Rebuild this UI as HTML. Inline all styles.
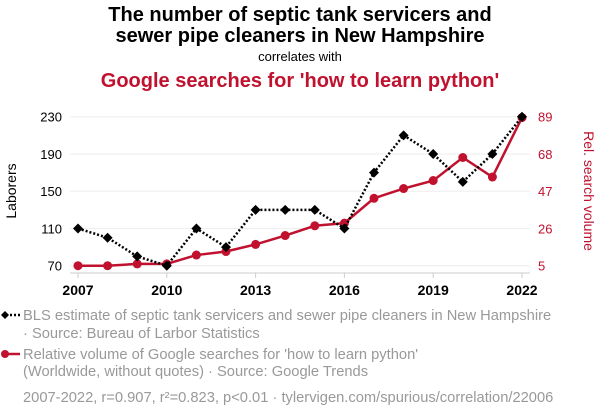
<!DOCTYPE html>
<html><head><meta charset="utf-8"><style>
body{margin:0;background:#fff;font-family:"Liberation Sans",sans-serif;}
svg{display:block}
</style></head><body>
<svg id="c" width="600" height="414">
<text x="300" y="21" text-anchor="middle" font-size="20" font-weight="bold" fill="#000">The number of septic tank servicers and</text>
<text x="300" y="42" text-anchor="middle" font-size="20" font-weight="bold" fill="#000">sewer pipe cleaners in New Hampshire</text>
<text x="300" y="61" text-anchor="middle" font-size="13" fill="#000">correlates with</text>
<text x="300" y="87" text-anchor="middle" font-size="20" font-weight="bold" fill="#c0122f">Google searches for 'how to learn python'</text>
<g id="grid"></g><g id="axes"></g><g id="series"></g>
<text transform="translate(16,191) rotate(-90)" text-anchor="middle" font-size="14" fill="#000">Laborers</text>
<text transform="translate(584,191) rotate(90)" text-anchor="middle" font-size="14" fill="#c0122f">Rel. search volume</text>
<g>
<line x1="2" y1="315" x2="20" y2="315" stroke="#000" stroke-width="2.5" stroke-dasharray="2,2"/>
<path d="M1 315 l4 -4 l4 4 l-4 4z" fill="#000"/>
<text x="23" y="320" font-size="14.7" fill="#999">BLS estimate of septic tank servicers and sewer pipe cleaners in New Hampshire</text>
<text x="23" y="338" font-size="14.7" fill="#999">· Source: Bureau of Larbor Statistics</text>
</g>
<g>
<line x1="2" y1="354" x2="20" y2="354" stroke="#c0122f" stroke-width="2.5"/>
<circle cx="5" cy="354" r="4" fill="#c0122f"/>
<text x="23" y="359" font-size="14.7" fill="#999">Relative volume of Google searches for 'how to learn python'</text>
<text x="23" y="376" font-size="14.7" fill="#999">(Worldwide, without quotes) · Source: Google Trends</text>
</g>
<text x="23" y="402" font-size="14.7" fill="#999">2007-2022, r=0.907, r²=0.823, p&lt;0.01 · tylervigen.com/spurious/correlation/22006</text>
</svg>
<script>
const years=[2007,2008,2009,2010,2011,2012,2013,2014,2015,2016,2017,2018,2019,2020,2021,2022];
const laborers=[110,100,80,70,110,90,130,130,130,110,170,210,190,160,190,230];
const searches=[5,5,6,6,11,13,17,22,27.5,29,43,48.5,53,66,55,88.5];
const leftTicks=[70,110,150,190,230];
const rightTicks=[5,26,47,68,89];
const xTicks=[2007,2010,2013,2016,2019,2022];
const NS="http://www.w3.org/2000/svg";
const x=v=>78+(v-2007)*(522-78)/15;
const yL=v=>265.7-(v-70)*(265.7-116.7)/160;
const yR=v=>265.7-(v-5)*(265.7-116.7)/84;
function mk(t,a,p){const e=document.createElementNS(NS,t);for(const k in a)e.setAttribute(k,a[k]);p.appendChild(e);return e;}
const grid=document.getElementById('grid'),axes=document.getElementById('axes'),ser=document.getElementById('series');
leftTicks.forEach((v,i)=>{
 const g=mk('line',{x1:70,x2:530,y1:yL(v),y2:yL(v),stroke:'#eee','stroke-width':1},grid);
 
 
 const t=mk('text',{x:62,y:yL(v)+5,'text-anchor':'end','font-size':13,fill:'#000'},axes);t.textContent=v;
 
 
 const r=mk('text',{x:538,y:yR(rightTicks[i])+5,'font-size':13,fill:'#c0122f'},axes);r.textContent=rightTicks[i];
 
 
});
const ax=mk('line',{x1:70,x2:530,y1:273,y2:273,stroke:'#ccc'},axes);


xTicks.forEach(v=>{
 mk('line',{x1:x(v),x2:x(v),y1:273,y2:278,stroke:'#ccc'},axes);
 const t=mk('text',{x:x(v),y:295,'text-anchor':'middle','font-size':14,'font-weight':'bold',fill:'#000'},axes);t.textContent=v;
 
 
});
const rl=mk('polyline',{points:years.map((y,i)=>x(y)+','+yR(searches[i])).join(' '),fill:'none',stroke:'#c0122f','stroke-width':2.5},ser);


years.forEach((y,i)=>{const c=mk('circle',{cx:x(y),cy:yR(searches[i]),r:4.5,fill:'#c0122f'},ser);
 
 });
const bl=mk('polyline',{points:years.map((y,i)=>x(y)+','+yL(laborers[i])).join(' '),fill:'none',stroke:'#000','stroke-width':2.5,'stroke-dasharray':'2,2'},ser);


years.forEach((y,i)=>{const cx=x(y),cy=yL(laborers[i]);
 const d=mk('path',{d:`M${cx-5} ${cy} L${cx} ${cy-5} L${cx+5} ${cy} L${cx} ${cy+5}Z`,fill:'#000'},ser);
 
 });
</script>
</body></html>
